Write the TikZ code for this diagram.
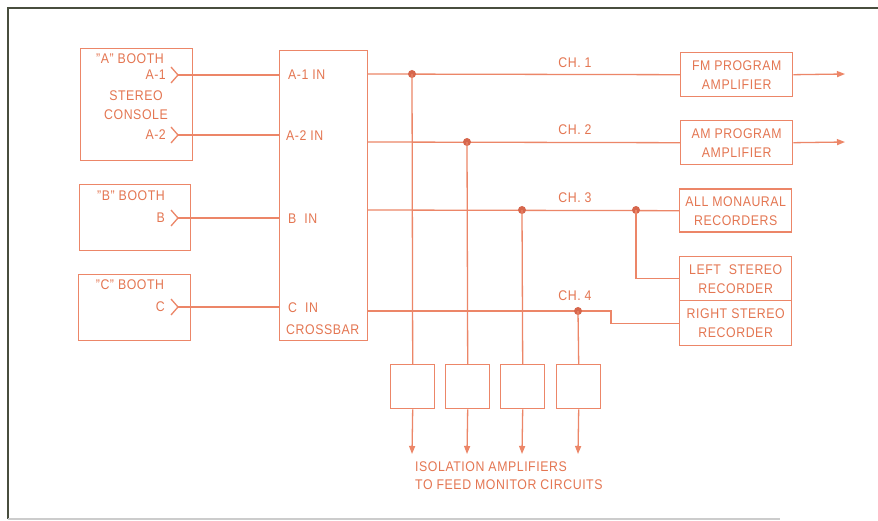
\documentclass[tikz,border=0pt]{standalone}
\usepackage{fontspec}
\setmainfont{Liberation Sans}[FakeStretch=0.88,LetterSpace=4]
\usetikzlibrary{arrows.meta}
\definecolor{ln}{RGB}{236,134,104}
\definecolor{tx}{RGB}{228,118,82}
\definecolor{dotc}{RGB}{214,102,76}
\definecolor{frm}{RGB}{72,78,62}
\begin{document}
\begin{tikzpicture}[x=1pt,y=-1pt,
  box/.style={draw=ln, line width=1.4pt, inner sep=0pt, anchor=north west},
  wire/.style={draw=ln, line width=1.3pt},
  lbl/.style={text=tx, font=\fontsize{14}{19}\selectfont, inner sep=0pt},
  jdot/.style={circle, fill=dotc, inner sep=0pt, minimum size=8pt},
  outarr/.style={wire, -{Triangle[length=8pt,width=6pt]}},
  chev/.style={draw=ln, line width=1.3pt}]
\useasboundingbox (0,0) rectangle (878,521);
\fill[white] (0,0) rectangle (878,521);
% frame
\draw[frm, line width=2pt] (7.5,519) -- (7.5,8) -- (878,8);
\draw[gray!40, line width=1.2pt] (7.5,519) -- (780,519);

% booth boxes
\node[box, minimum width=112pt, minimum height=112pt] (boothA) at (80,48) {};
\node[box, minimum width=111pt, minimum height=66pt] (boothB) at (79,184) {};
\node[box, minimum width=112pt, minimum height=66pt] (boothC) at (78,274) {};
\node[box, minimum width=88pt, minimum height=290pt] (xbar) at (279,50) {};

% right boxes
\node[box, minimum width=112pt, minimum height=44pt] (fm) at (680,52) {};
\node[box, minimum width=112pt, minimum height=44pt] (am) at (680,120) {};
\node[box, minimum width=112pt, minimum height=43pt] (mono) at (679,188.5) {};
\node[box, minimum width=112pt, minimum height=44pt] (lst) at (679,256) {};
\node[box, minimum width=112pt, minimum height=45pt] (rst) at (679,300) {};

% isolation amplifiers
\node[box, minimum width=44pt, minimum height=44pt] (iso1) at (390,364) {};
\node[box, minimum width=44pt, minimum height=44pt] (iso2) at (445,364) {};
\node[box, minimum width=44pt, minimum height=44pt] (iso3) at (500,364) {};
\node[box, minimum width=44pt, minimum height=44pt] (iso4) at (556,364) {};

% booth texts
\node[lbl] (tA) at (130,59) {"A" BOOTH};
\node[lbl, anchor=east] (tA1) at (166,75) {A-1};
\node[lbl, align=center] (tSC) at (136,105) {STEREO\\CONSOLE};
\node[lbl, anchor=east] (tA2) at (166,135) {A-2};
\node[lbl] (tB) at (131,196) {"B" BOOTH};
\node[lbl, anchor=east] (tBB) at (165,218) {B};
\node[lbl] (tC) at (130,285) {"C" BOOTH};
\node[lbl, anchor=east] (tCC) at (165,307) {C};

% chevrons (output tips)
\coordinate (a1) at (178,75);
\coordinate (a2) at (178,135);
\coordinate (bo) at (178,218);
\coordinate (co) at (178,307);
\foreach \p in {a1,a2,bo,co}{
  \draw[chev] ([shift={(-7,-8)}]\p) -- (\p) -- ([shift={(-7,8)}]\p);
}

% crossbar texts
\node[lbl, anchor=west] (i1) at (288,75) {A-1 IN};
\node[lbl, anchor=west] (i2) at (286,136) {A-2 IN};
\node[lbl, anchor=west] (i3) at (288,219) {B\ \ IN};
\node[lbl, anchor=west] (i4) at (288,308) {C\ \ IN};
\node[lbl, anchor=west] (i5) at (286,330) {CROSSBAR};

% inputs to crossbar
\draw[wire] (a1) -- (a1 -| xbar.west);
\draw[wire] (a2) -- (a2 -| xbar.west);
\draw[wire] (bo) -- (bo -| xbar.west);
\draw[wire] (co) -- (co -| xbar.west);

% channel outputs
\coordinate (c1) at (367,74);
\coordinate (c2) at (367,142);
\coordinate (c3) at (367,210);
\coordinate (c4) at (367,311);
\coordinate (j4) at (611,311);

\draw[wire] (c1) -- (fm.west);
\draw[wire] (c2) -- (am.west);
\draw[wire] (c3) -- (mono.west);
\draw[wire] (c4) -- (j4) |- (rst.west);

\node[jdot] (d1) at (412,74) {};
\node[jdot] (d2) at (467,142) {};
\node[jdot] (d3) at (522,210) {};
\node[jdot] (d4) at (636,210) {};
\node[jdot] (d5) at (578,311) {};

\draw[wire] (d1.center) -- (iso1.north);
\draw[wire] (d2.center) -- (iso2.north);
\draw[wire] (d3.center) -- (iso3.north);
\draw[wire] (d5.center) -- (iso4.north);
\draw[wire] (d4.center) |- (lst.west);

% channel labels
\node[lbl] (l1) at (575,63) {CH. 1};
\node[lbl] (l2) at (575,130) {CH. 2};
\node[lbl] (l3) at (575,198) {CH. 3};
\node[lbl] (l4) at (575,296) {CH. 4};

% right box texts
\node[lbl, align=center] at (fm) {FM PROGRAM\\AMPLIFIER};
\node[lbl, align=center] at (am) {AM PROGRAM\\AMPLIFIER};
\node[lbl, align=center] at (mono) {ALL MONAURAL\\RECORDERS};
\node[lbl, align=center] at (lst) {LEFT\ \ STEREO\\RECORDER};
\node[lbl, align=center] at (rst) {RIGHT STEREO\\RECORDER};

% program outputs
\coordinate (fo) at (845,74);
\coordinate (ao) at (845,142);
\draw[outarr] (fm.east) -- (fo);
\draw[outarr] (am.east) -- (ao);

% monitor feeds
\coordinate (o1) at (412,454);
\coordinate (o2) at (467,454);
\coordinate (o3) at (522,454);
\coordinate (o4) at (578,454);
\draw[outarr] (iso1.south) -- (o1);
\draw[outarr] (iso2.south) -- (o2);
\draw[outarr] (iso3.south) -- (o3);
\draw[outarr] (iso4.south) -- (o4);

\node[lbl, anchor=west] (m1) at (415,467) {ISOLATION AMPLIFIERS};
\node[lbl, anchor=west] (m2) at (415,485) {TO FEED MONITOR CIRCUITS};
\end{tikzpicture}
\end{document}
